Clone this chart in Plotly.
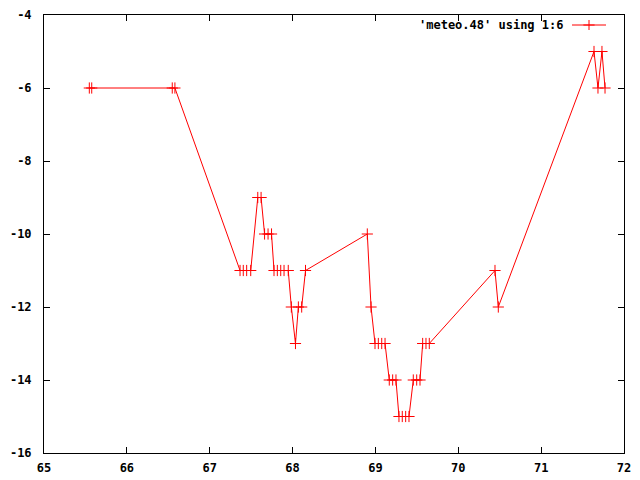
import plotly.graph_objects as go

# Data (x = day, y = column 6)
x_vals = [65.547, 65.576, 66.548, 66.580,
          67.366, 67.405, 67.446, 67.495,
          67.580, 67.620,
          67.662, 67.704, 67.746,
          67.776, 67.816, 67.857, 67.897, 67.948,
          67.985, 68.035, 68.070, 68.110, 68.156,
          68.902, 68.947,
          68.995, 69.035, 69.076, 69.116,
          69.167, 69.208, 69.248,
          69.284, 69.324, 69.365, 69.405,
          69.457, 69.498, 69.538,
          69.570, 69.610, 69.650,
          70.443, 70.483,
          71.638, 71.686, 71.734, 71.771]
y_vals = [-6, -6, -6, -6,
          -11, -11, -11, -11,
          -9, -9,
          -10, -10, -10,
          -11, -11, -11, -11, -11,
          -12, -13, -12, -12, -11,
          -10, -12,
          -13, -13, -13, -13,
          -14, -14, -14,
          -15, -15, -15, -15,
          -14, -14, -14,
          -13, -13, -13,
          -11, -12,
          -5, -6, -5, -6]

x_ticks = [65, 66, 67, 68, 69, 70, 71, 72]
y_ticks = [-16, -14, -12, -10, -8, -6, -4]
legend_label = "'meteo.48' using 1:6"

RED = "#ff0000"
FONT = dict(family="DejaVu Sans Mono", size=12, color="black", weight="bold")
MARKER = dict(symbol="cross-thin-open", size=8, color=RED, line=dict(color=RED, width=1))

fig = go.Figure()
fig.add_trace(go.Scatter(
    x=x_vals, y=y_vals, mode="lines+markers",
    line=dict(color=RED, width=1), marker=MARKER, showlegend=False,
))
# legend sample (on an auxiliary hidden axis)
fig.add_trace(go.Scatter(
    x=[0.0, 1.0], y=[0.5, 0.5], xaxis="x2", yaxis="y2",
    mode="lines", line=dict(color=RED, width=1), showlegend=False, hoverinfo="skip",
))
fig.add_trace(go.Scatter(
    x=[0.5], y=[0.5], xaxis="x2", yaxis="y2",
    mode="markers", marker=MARKER, showlegend=False, hoverinfo="skip",
))

W, H = 640, 480
L, R, T, B = 44, 16, 15, 27
pw, ph = W - L - R, H - T - B

def px2paper_x(px):
    return (px - L) / pw

def py2paper_y(py):
    return (H - B - py) / ph

fig.update_layout(
    width=W, height=H,
    margin=dict(l=L, r=R, t=T, b=B, autoexpand=False),
    paper_bgcolor="white", plot_bgcolor="white",
    font=FONT,
    xaxis=dict(
        range=[65, 72], tickvals=x_ticks, ticktext=[str(v) for v in x_ticks],
        ticks="inside", ticklen=6, tickcolor="black", tickwidth=1,
        showline=True, linecolor="black", linewidth=1, mirror="ticks",
        showgrid=False, zeroline=False, tickfont=FONT, ticklabelstandoff=4,
        automargin=False,
    ),
    yaxis=dict(
        range=[-16, -4], tickvals=y_ticks, ticktext=[str(v) for v in y_ticks],
        ticks="inside", ticklen=6, tickcolor="black", tickwidth=1,
        showline=True, linecolor="black", linewidth=1, mirror="ticks",
        showgrid=False, zeroline=False, tickfont=FONT, ticklabelstandoff=9,
        automargin=False,
    ),
    xaxis2=dict(
        domain=[px2paper_x(572), px2paper_x(606)], range=[0, 1],
        visible=False, anchor="y2", automargin=False,
    ),
    yaxis2=dict(
        domain=[py2paper_y(30), py2paper_y(20)], range=[0, 1],
        visible=False, anchor="x2", automargin=False,
    ),
    annotations=[dict(
        text=legend_label, xref="paper", yref="paper",
        x=px2paper_x(566), y=py2paper_y(25), xanchor="right", yanchor="middle",
        showarrow=False, font=FONT,
    )],
)

fig.write_html("out.html", config={"displayModeBar": False},
               post_script="document.body.style.margin='0';")
